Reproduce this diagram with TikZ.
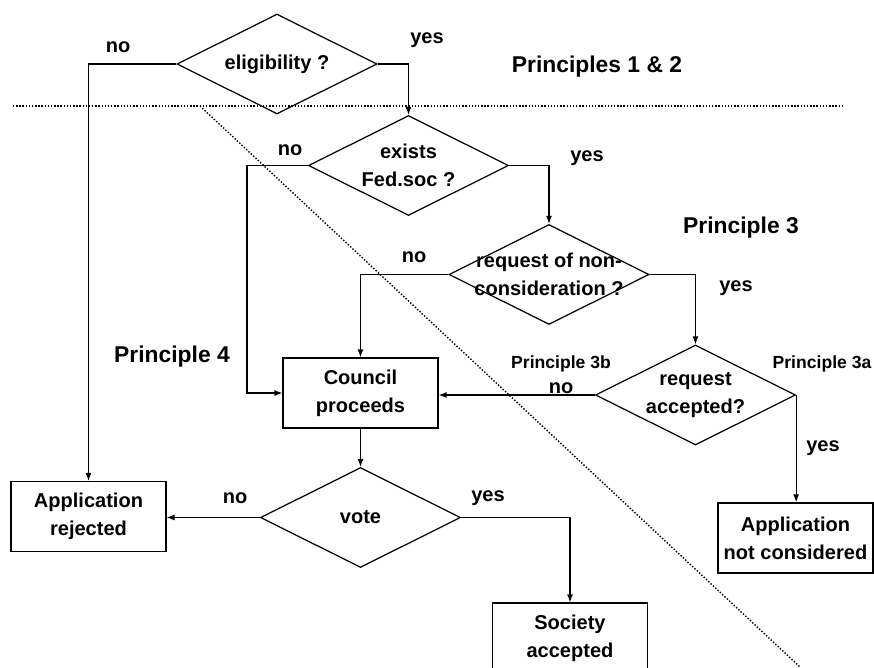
\documentclass[tikz,border=0pt]{standalone}
\usepackage{fontspec}
\setmainfont{Liberation Sans}
\usetikzlibrary{arrows.meta,shapes.geometric}

\begin{document}
\begin{tikzpicture}[x=0.2mm, y=-0.2mm, line width=0.7pt,
  font=\bfseries\fontsize{11.4}{16}\selectfont,
  dia/.style={diamond, draw, aspect=2, minimum width=40mm, minimum height=20mm, inner sep=0pt, align=center},
  box/.style={rectangle, draw, minimum width=31mm, minimum height=14mm, inner sep=0pt, align=center},
  arr/.style={-{Latex[length=1.6mm,width=1.2mm]}},
  lbl/.style={inner sep=0pt},
  prin/.style={inner sep=0pt, font=\bfseries\fontsize{13}{15}\selectfont},
  sprin/.style={inner sep=0pt, font=\bfseries\fontsize{10}{12}\selectfont},
  sep/.style={densely dotted, line width=0.8pt}]
  \useasboundingbox (0,0) rectangle (874,667);
  \draw[sep] (13,106) -- (843,106);
  \draw[sep] (200,106) -- (800,667);
  \node[dia] (el) at (277,64) {eligibility ?};
  \node[dia] (ex) at (408.5,165.5) {exists\\Fed.soc ?};
  \node[dia, label={[align=center, inner sep=0pt]center:request of non-\\consideration ?}] (nc) at (549,274.5) {};
  \node[dia] (ra) at (695.5,395) {request\\accepted?};
  \node[dia] (vt) at (360.5,517.5) {vote};
  \node[box] (cp) at (360.5,393) {Council\\proceeds};
  \node[box] (rej) at (88.5,516.5) {Application\\rejected};
  \node[box] (anc) at (795.5,538) {Application\\not considered};
  \node[box] (sa) at (570,638) {Society\\accepted};
  \draw[arr] (el.west) -| (rej.north);
  \draw[arr] (el.east) -| (ex.north);
  \draw[arr] (ex.west) -- ++(-61,0) |- (cp.west);
  \draw[arr] (ex.east) -| (nc.north);
  \draw[arr] (nc.west) -| (cp.north);
  \draw[arr] (nc.east) -| (ra.north);
  \draw[arr] (ra.west) -- (ra.west -| cp.east);
  \draw[arr] (ra.east) -- (ra.east |- anc.north);
  \draw[arr] (cp.south) -- (vt.north);
  \draw[arr] (vt.west) -- (vt.west -| rej.east);
  \draw[arr] (vt.east) -| (sa.north);
  \node[lbl] (no1) at (118,47) {no};
  \node[lbl] (yes1) at (427,40) {yes};
  \node[prin] (p12) at (597,67) {Principles 1 \& 2};
  \node[lbl] (no2) at (290,150) {no};
  \node[lbl] (yes2) at (587,158) {yes};
  \node[prin] (p3) at (741,228) {Principle 3};
  \node[lbl] (no3) at (414,257) {no};
  \node[lbl] (yes3) at (736,288) {yes};
  \node[sprin] (p3b) at (561,364) {Principle 3b};
  \node[lbl] (no4) at (561,388) {no};
  \node[sprin] (p3a) at (822,364) {Principle 3a};
  \node[lbl] (yes4) at (823,448) {yes};
  \node[prin] (p4) at (172,357) {Principle 4};
  \node[lbl] (no5) at (235,498) {no};
  \node[lbl] (yes5) at (488,498) {yes};
\end{tikzpicture}
\end{document}
